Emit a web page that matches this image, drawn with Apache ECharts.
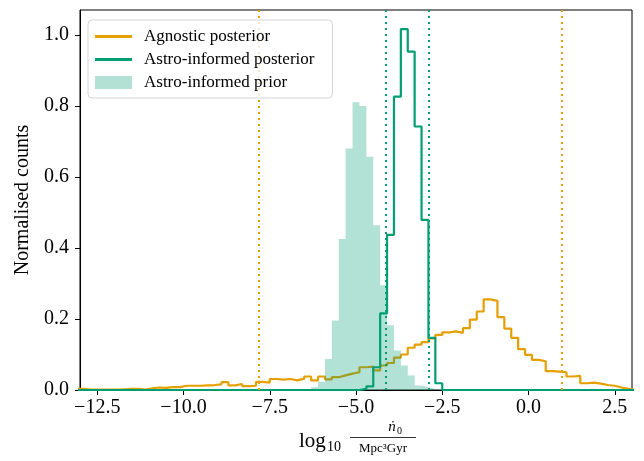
<!DOCTYPE html>
<html>
<head>
<meta charset="utf-8">
<script src="https://cdn.jsdelivr.net/npm/echarts@6/dist/echarts.min.js"></script>
<style>
html, body { margin: 0; padding: 0; background: #fff; }
#main { width: 644px; height: 461px; }
</style>
</head>
<body>
<div id="main"></div>
<script>
'use strict';

// histogram bins: edges every 0.2 starting at -13.1
var binStart = -13.1;
var binWidth = 0.2;

var agnosticCounts = [
    0.003, 0.001, 0.001, 0.001, 0.001, 0.001, 0.002, 0.003, 0.003, 0.001,
    0.005, 0.007, 0.006, 0.008, 0.008, 0.012, 0.012, 0.012, 0.013, 0.014,
    0.016, 0.022, 0.013, 0.017, 0.011, 0.012, 0.023, 0.021, 0.031, 0.029,
    0.031, 0.027, 0.032, 0.038, 0.027, 0.038, 0.030, 0.036, 0.041, 0.046,
    0.050, 0.064, 0.066, 0.055, 0.069, 0.076, 0.091, 0.100, 0.119, 0.128,
    0.135, 0.145, 0.155, 0.162, 0.165, 0.161, 0.174, 0.198, 0.221, 0.255,
    0.251, 0.205, 0.173, 0.147, 0.115, 0.099, 0.085, 0.081, 0.053, 0.052,
    0.050, 0.038, 0.040, 0.019, 0.021, 0.018, 0.014, 0.012, 0.007, 0.003,
    0.001
];

var astroStart = -4.9;
var astroCounts = [0.003, 0.010, 0.064, 0.216, 0.437, 0.826, 1.016, 0.953, 0.742, 0.479, 0.147, 0.019];

var priorStart = -6.3;
var priorCounts = [0.008, 0.023, 0.087, 0.196, 0.425, 0.680, 0.810, 0.800, 0.657, 0.464, 0.295, 0.182, 0.111, 0.069, 0.041, 0.013, 0.008, 0.003];

// dotted credible bounds
var agnosticBounds = [-7.81, 0.95];
var astroBounds = [-4.13, -2.90];

var xTicks = [-12.5, -10, -7.5, -5, -2.5, 0, 2.5];
var yTicks = [0, 0.2, 0.4, 0.6, 0.8, 1.0];

var serif = '"Liberation Serif", "DejaVu Serif", serif';
var orange = '#E69F00';
var green = '#009E73';
var lineIcon = 'path://M0,0L40,0L40,3L0,3Z';

var nBins = agnosticCounts.length;

// step points over the whole bin range, zero outside the given counts
var stepData = function (start, counts) {
    var res = [];
    var offset = Math.round((start - binStart) / binWidth);
    for (var i = 0; i <= nBins; i++) {
        var x = +(binStart + i * binWidth).toFixed(2);
        var j = Math.min(i, nBins - 1) - offset;
        var v = (j >= 0 && j < counts.length) ? counts[j] : 0;
        res.push([x, v]);
    }
    return res;
};

var boundLines = function (vals, color) {
    return {
        symbol: 'none',
        silent: true,
        label: { show: false },
        lineStyle: { color: color, type: [2, 4], width: 2, opacity: 1 },
        emphasis: { disabled: true },
        data: vals.map(function (v) { return { xAxis: v }; })
    };
};

var myChart = echarts.init(document.getElementById('main'));

var option = {
    animation: false,
    backgroundColor: '#fff',
    grid: {
        left: 80, right: 12, top: 10, bottom: 71,
        show: true, borderColor: '#000', borderWidth: 1
    },
    legend: {
        orient: 'vertical',
        left: 88,
        top: 20,
        z: 10,
        padding: [8, 18, 7, 7],
        itemGap: 6,
        itemWidth: 37,
        itemHeight: 13,
        backgroundColor: 'rgba(255,255,255,0.8)',
        borderColor: '#d5d5d5',
        borderWidth: 1,
        borderRadius: 4,
        textStyle: { fontFamily: serif, fontSize: 17, lineHeight: 17, color: '#000', padding: [0, 0, 0, 7] },
        data: [
            { name: 'Agnostic posterior', icon: lineIcon },
            { name: 'Astro-informed posterior', icon: lineIcon },
            { name: 'Astro-informed prior', icon: 'rect', itemStyle: { color: '#b3e2d5' } }
        ]
    },
    xAxis: {
        type: 'value',
        min: -13,
        max: 3,
        axisLine: { show: true, onZero: false, lineStyle: { color: '#000', width: 1 } },
        axisTick: { show: true, length: 5, lineStyle: { color: '#000' }, customValues: xTicks },
        axisLabel: {
            customValues: xTicks,
            margin: 8,
            fontFamily: serif,
            fontSize: 20,
            color: '#000',
            formatter: function (v) { return v.toFixed(1).replace('-', '\u2212'); }
        },
        splitLine: { show: false }
    },
    yAxis: {
        type: 'value',
        min: 0,
        max: 1.07,
        name: 'Normalised counts',
        nameLocation: 'middle',
        nameGap: 45,
        nameTextStyle: { fontFamily: serif, fontSize: 20, color: '#000' },
        axisLine: { show: true, onZero: false, lineStyle: { color: '#000', width: 1 } },
        axisTick: { show: true, length: 5, lineStyle: { color: '#000' }, customValues: yTicks },
        axisLabel: {
            customValues: yTicks,
            margin: 11,
            fontFamily: serif,
            fontSize: 20,
            color: '#000',
            formatter: function (v) { return v.toFixed(1); }
        },
        splitLine: { show: false }
    },
    graphic: [
        { type: 'text', x: 299, y: 441, style: { text: 'log', font: '21px ' + serif, fill: '#000', verticalAlign: 'middle' } },
        { type: 'text', x: 327, y: 447, style: { text: '10', font: '14px ' + serif, fill: '#000', verticalAlign: 'middle' } },
        { type: 'text', x: 392, y: 427, style: { text: '\u1E45', font: 'italic 15px ' + serif, fill: '#000', align: 'center', verticalAlign: 'middle' } },
        { type: 'text', x: 397, y: 431, style: { text: '0', font: '10px ' + serif, fill: '#000', verticalAlign: 'middle' } },
        { type: 'line', shape: { x1: 350, y1: 437.5, x2: 416, y2: 437.5 }, style: { stroke: '#000', lineWidth: 0.8 } },
        { type: 'text', x: 383, y: 449, style: { text: 'Mpc\u00B3Gyr', font: '13px ' + serif, fill: '#000', align: 'center', verticalAlign: 'middle' } }
    ],
    series: [
        {
            name: 'Agnostic posterior',
            type: 'line',
            step: 'end',
            symbol: 'none',
            z: 2,
            data: stepData(binStart, agnosticCounts),
            itemStyle: { color: orange },
            lineStyle: { color: orange, width: 2.2 },
            markLine: boundLines(agnosticBounds, orange)
        },
        {
            name: 'Astro-informed prior',
            type: 'line',
            step: 'end',
            symbol: 'none',
            z: 3,
            data: stepData(priorStart, priorCounts),
            itemStyle: { color: '#b3e2d5' },
            lineStyle: { width: 0, opacity: 0 },
            areaStyle: { color: green, opacity: 0.3 }
        },
        {
            name: 'Astro-informed posterior',
            type: 'line',
            step: 'end',
            symbol: 'none',
            z: 4,
            data: stepData(astroStart, astroCounts),
            itemStyle: { color: green },
            lineStyle: { color: green, width: 2.2 },
            markLine: boundLines(astroBounds, green)
        }
    ]
};

myChart.setOption(option);
</script>
</body>
</html>
